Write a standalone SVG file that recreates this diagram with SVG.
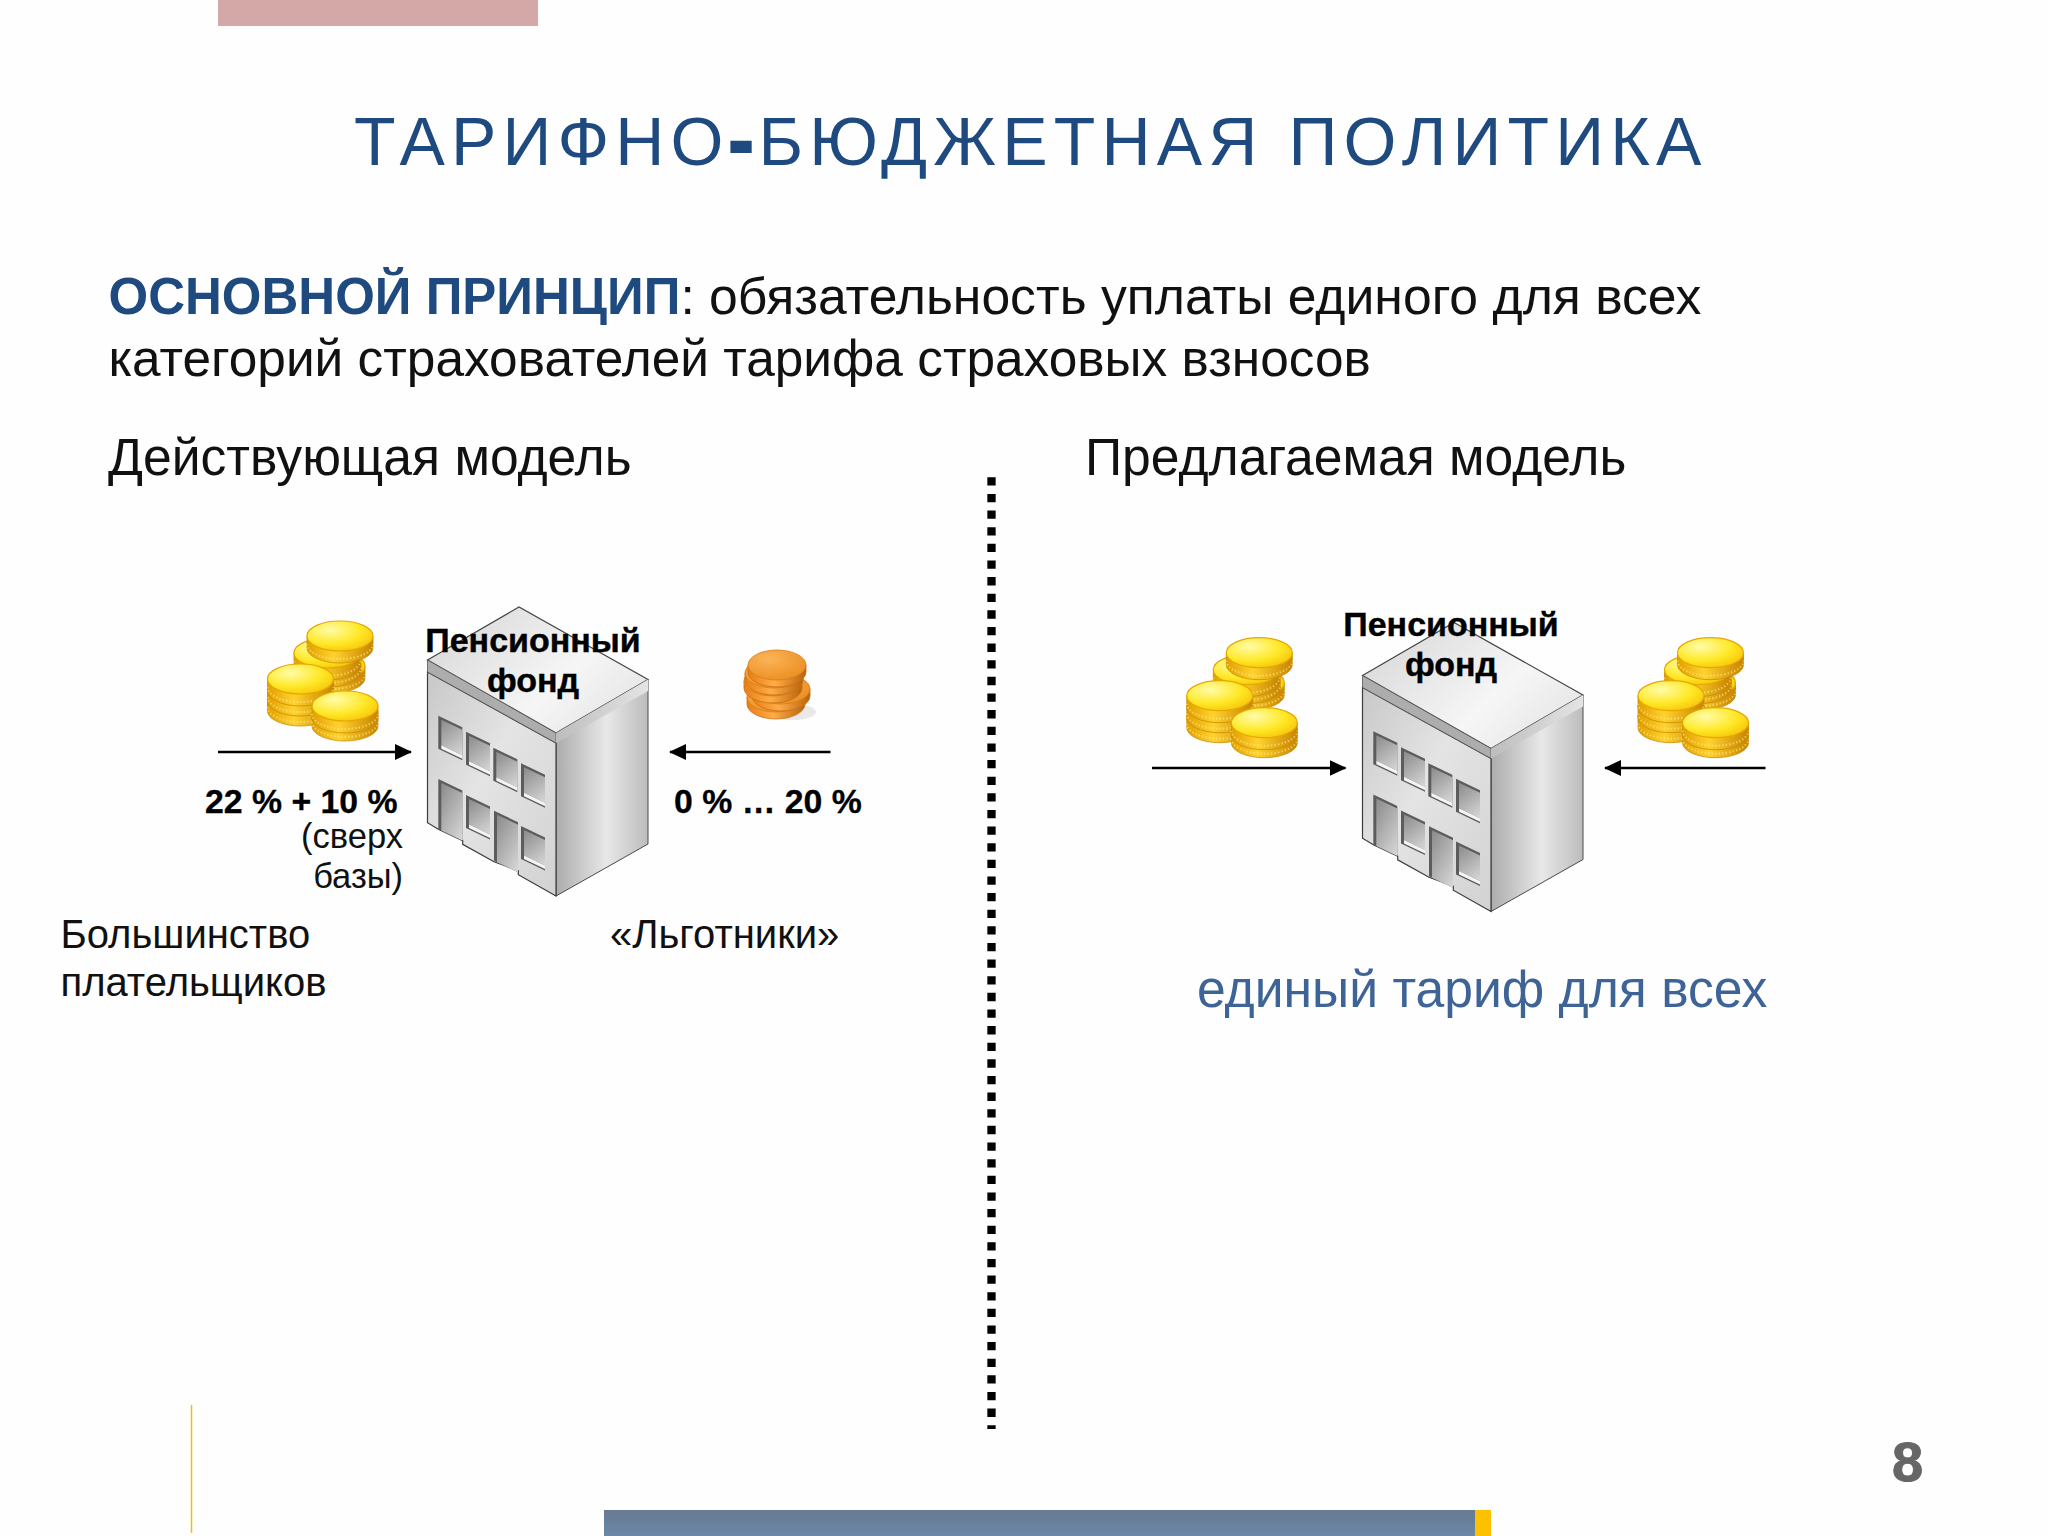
<svg xmlns="http://www.w3.org/2000/svg" width="2048" height="1536" viewBox="0 0 2048 1536">
<style>
text{font-family:"Liberation Sans",Arial,sans-serif;fill:#111}
.t51{font-size:51.700px}
.t52{font-size:51.650px}
.lab{font-size:34px;font-weight:bold;fill:#000;stroke:#000;stroke-width:.4}
.pct{font-size:33.800px;font-weight:bold;fill:#000;stroke:#000;stroke-width:.3}
.sm{font-size:34.500px}
.md{font-size:40px}
.con{stroke:#000;stroke-width:2.500;fill:none}
.edge{fill:none;stroke:#fff0a0;stroke-width:2;stroke-dasharray:1.500 2;opacity:.55}
</style>
<defs>
<marker id="ah" markerUnits="userSpaceOnUse" markerWidth="17" markerHeight="17" refX="16" refY="8" orient="auto"><path d="M0 0L17 8L0 16Z" fill="#000"/></marker>
<linearGradient id="wall" x1="0" y1="0" x2="1" y2="1"><stop offset="0" stop-color="#c8c8c8"/><stop offset=".45" stop-color="#e4e4e4"/><stop offset="1" stop-color="#d2d2d2"/></linearGradient>
<linearGradient id="side" x1="0" y1="0" x2="1" y2="0"><stop offset="0" stop-color="#acacac"/><stop offset=".55" stop-color="#e8e8e8"/><stop offset="1" stop-color="#bcbcbc"/></linearGradient>
<linearGradient id="roof" x1="0" y1="0" x2="1" y2="0.600"><stop offset="0" stop-color="#d4d4d4"/><stop offset=".7" stop-color="#f6f6f6"/><stop offset="1" stop-color="#e8e8e8"/></linearGradient>
<linearGradient id="bandR" x1="0" y1="0" x2="1" y2="0"><stop offset="0" stop-color="#bdbdbd"/><stop offset="1" stop-color="#e4e4e4"/></linearGradient>
<linearGradient id="glass" x1="0" y1="0" x2="1" y2="1"><stop offset="0" stop-color="#8a8a8a"/><stop offset="1" stop-color="#d8d8d8"/></linearGradient>
<radialGradient id="gT" cx=".35" cy=".3" r=".85"><stop offset="0" stop-color="#fffca8"/><stop offset=".55" stop-color="#ffe826"/><stop offset="1" stop-color="#f4bc00"/></radialGradient>
<linearGradient id="gB" x1="0" y1="0" x2="1" y2="0"><stop offset="0" stop-color="#e2a000"/><stop offset=".4" stop-color="#ffd22e"/><stop offset="1" stop-color="#c88400"/></linearGradient>
<radialGradient id="oT" cx=".35" cy=".3" r=".85"><stop offset="0" stop-color="#fbb458"/><stop offset="1" stop-color="#ea8a1c"/></radialGradient>
<linearGradient id="oB" x1="0" y1="0" x2="1" y2="0"><stop offset="0" stop-color="#e87e14"/><stop offset=".45" stop-color="#ffac48"/><stop offset="1" stop-color="#b8640e"/></linearGradient>
<linearGradient id="barG" x1="0" y1="0" x2="0" y2="1"><stop offset="0" stop-color="#687a91"/><stop offset="1" stop-color="#6a88a8"/></linearGradient>
<g id="coin"><path d="M-33 0V12A33 15 0 0 0 33 12V0Z" fill="url(#gB)" stroke="#c88c00" stroke-width=".8"/><path class="edge" d="M-33 8A33 15 0 0 0 33 8"/><ellipse rx="33" ry="15" fill="url(#gT)" stroke="#e6a800" stroke-width="1.200"/></g>
<g id="ocoin"><path d="M-29 0V7A29 15 0 0 0 29 7V0Z" fill="url(#oB)" stroke="#c86e10" stroke-width=".8"/><ellipse rx="29" ry="15" fill="url(#oT)" stroke="#d87c14" stroke-width=".8"/></g>
<g id="stack">
<use href="#coin" x="332" y="666"/><use href="#coin" x="328" y="660"/><use href="#coin" x="327" y="653"/>
<use href="#coin" x="340" y="636"/>
<use href="#coin" x="300.500" y="699"/><use href="#coin" x="300.500" y="689"/><use href="#coin" x="300.500" y="679"/>
<use href="#coin" x="345" y="714"/><use href="#coin" x="345" y="706"/>
</g>
<g id="win"><rect width="24" height="33" fill="#5c5c5c"/><rect x="3" y="2.500" width="21" height="25.500" fill="url(#glass)"/><rect x="3" y="28" width="21" height="3.500" fill="#f4f4f4"/></g>
<g id="door"><rect width="24" height="50" fill="#5c5c5c"/><rect x="3" y="2.500" width="21" height="47.500" fill="url(#glass)"/></g>
<g id="bld">
<polygon points="556,733 648,679.500 648,844 556,896" fill="url(#side)" stroke="#4a4a4a" stroke-width="1"/>
<polygon points="427.500,672 556,743 556,896 518.300,874.700 518.300,870.700 494,861.700 462.700,844.300 462.700,840.700 438.300,829.300 427.500,822.700" fill="url(#wall)" stroke="#3c3c3c" stroke-width="1.200"/>
<polygon points="427.500,660 519,607 648,679.500 556,733" fill="url(#roof)" stroke="#444" stroke-width="1.200"/>
<polygon points="427.500,660 556,733 556,743 427.500,672" fill="#adadad" stroke="#555" stroke-width=".8"/>
<polygon points="556,733 648,679.500 648,691 556,743" fill="url(#bandR)"/>
<use href="#win" transform="translate(438.300 715.700) skewY(25.500)"/>
<use href="#win" transform="translate(466 731.700) skewY(25.500)"/>
<use href="#win" transform="translate(493.300 747.700) skewY(25.500)"/>
<use href="#win" transform="translate(521 763.300) skewY(25.500)"/>
<use href="#door" transform="translate(438.300 779) skewY(25.500)"/>
<use href="#win" transform="translate(466 795) skewY(25.500)"/>
<use href="#door" transform="translate(494 810.700) skewY(25.500)"/>
<use href="#win" transform="translate(521 826) skewY(25.500)"/>
</g>
</defs>
<rect width="2048" height="1536" fill="#fefefe"/>
<g id="decor">
<rect x="218" y="0" width="320" height="26" fill="#d4a8a6"/>
<rect x="604" y="1510" width="871" height="26" fill="url(#barG)"/>
<rect x="1475" y="1510" width="16" height="26" fill="#ffc000"/>
<line x1="191.500" y1="1405" x2="191.500" y2="1533" stroke="#f2c200" stroke-width="1.500"/>
</g>
<text id="title" x="354" y="165" font-size="68" style="fill:#1f4a7f;letter-spacing:6.150px">ТАРИФНО<tspan font-weight="bold" style="stroke:#1f4a7f;stroke-width:4">-</tspan>БЮДЖЕТНАЯ ПОЛИТИКА</text>
<g id="principle">
<text class="t51" x="108.500" y="314"><tspan font-weight="bold" style="fill:#1f4a7f;font-size:51px">ОСНОВНОЙ ПРИНЦИП</tspan>: обязательность уплаты единого для всех</text>
<text class="t51" x="108.500" y="376" style="font-size:51.400px">категорий страхователей тарифа страховых взносов</text>
</g>
<text class="t52" id="h-left" x="108" y="475">Действующая модель</text>
<text class="t52" id="h-right" x="1085" y="475">Предлагаемая модель</text>
<g id="node-coins-left-1"><use href="#stack"/></g>
<g id="node-coins-left-2">
<ellipse cx="792" cy="712" rx="24" ry="8" fill="#d4d4d4" opacity=".5"/>
<use href="#ocoin" x="776" y="697"/><use href="#ocoin" x="781" y="689"/><use href="#ocoin" x="773" y="681"/><use href="#ocoin" x="774" y="673"/><use href="#ocoin" x="777" y="665"/>
</g>
<g id="node-fund-left">
<use href="#bld"/>
<text class="lab" x="533" y="652" text-anchor="middle">Пенсионный</text>
<text class="lab" x="533" y="692" text-anchor="middle">фонд</text>
</g>
<g id="node-coins-right-1"><use href="#stack" x="919.300" y="16.700"/></g>
<g id="node-coins-right-2"><use href="#stack" x="1370.500" y="16.700"/></g>
<g id="node-fund-right">
<use href="#bld" x="935" y="15.500"/>
<text class="lab" x="1451" y="636" text-anchor="middle">Пенсионный</text>
<text class="lab" x="1451" y="676" text-anchor="middle">фонд</text>
</g>
<g id="connectors">
<line class="con" x1="218" y1="752" x2="411" y2="752" marker-end="url(#ah)"/>
<line class="con" x1="830.500" y1="752" x2="670" y2="752" marker-end="url(#ah)"/>
<line class="con" x1="1152" y1="768" x2="1345.500" y2="768" marker-end="url(#ah)"/>
<line class="con" x1="1765.500" y1="768" x2="1605" y2="768" marker-end="url(#ah)"/>
<line id="divider" x1="991.500" y1="477.300" x2="991.500" y2="1429" stroke="#000" stroke-width="8.300" stroke-dasharray="8.300 8.330"/>
</g>
<g id="labels">
<text class="pct" x="205" y="813">22 % + 10 %</text>
<text class="sm" x="403" y="848" text-anchor="end">(сверх</text>
<text class="sm" x="403" y="888" text-anchor="end">базы)</text>
<text class="pct" x="674" y="813">0 % … 20 %</text>
<text class="md" x="60.500" y="948">Большинство</text>
<text class="md" x="60.500" y="996">плательщиков</text>
<text class="md" x="610" y="948">«Льготники»</text>
<text class="t52" x="1197" y="1007" style="fill:#3e6497">единый тариф для всех</text>
<text id="pagenum" x="1892" y="1481" font-size="56" font-weight="bold" style="fill:#666;stroke:#666;stroke-width:1">8</text>
</g>
</svg>
